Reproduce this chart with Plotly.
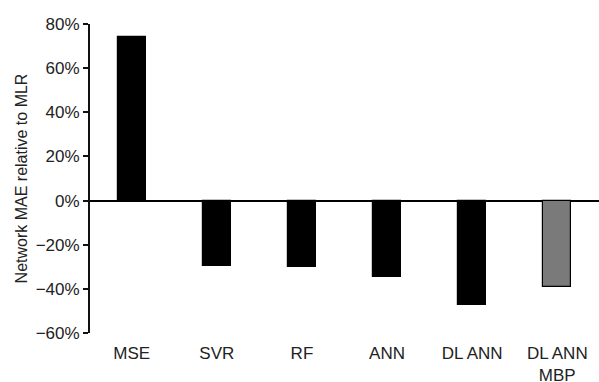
import plotly.graph_objects as go

# Model names and their network MAE change relative to MLR (percent)
models = ["MSE", "SVR", "RF", "ANN", "DL ANN", "DL ANN<br>MBP"]
mae_change = [74.2, -29.5, -30.0, -34.8, -47.4, -39.2]
bar_colors = ["#000000", "#000000", "#000000", "#000000", "#000000", "#7a7a7a"]

y_ticks = [-60, -40, -20, 0, 20, 40, 60, 80]
y_tick_text = [f"{v}%".replace("-", "\u2212") for v in y_ticks]

x_pos = list(range(len(models)))

fig = go.Figure()
fig.add_trace(go.Bar(
    x=x_pos,
    y=mae_change,
    width=0.33,
    marker=dict(color=bar_colors, line=dict(color="#000000", width=1.2)),
    showlegend=False,
))

font_family = "Liberation Sans, Arial, sans-serif"

fig.update_layout(
    width=599,
    height=382,
    margin=dict(l=90, r=0, t=24, b=49),
    paper_bgcolor="white",
    plot_bgcolor="white",
    font=dict(family=font_family, size=17, color="#222222"),
    bargap=0,
    xaxis=dict(
        range=[-0.49, 5.49],
        tickvals=x_pos,
        ticktext=models,
        showgrid=False,
        zeroline=False,
        showline=False,
        ticks="",
        automargin=False,
        ticklabelstandoff=8,
        tickfont=dict(size=17, color="#222222"),
    ),
    yaxis=dict(
        range=[-60, 80],
        tickvals=y_ticks,
        ticktext=y_tick_text,
        showgrid=False,
        zeroline=True,
        zerolinecolor="#000000",
        zerolinewidth=1.5,
        showline=True,
        linecolor="#111111",
        linewidth=2,
        ticks="outside",
        ticklen=5,
        tickwidth=1.5,
        tickcolor="#111111",
        automargin=False,
        tickfont=dict(size=17, color="#222222"),
        title=dict(text="Network MAE relative to MLR", font=dict(size=16, color="#222222"), standoff=4),
    ),
)

fig.write_html("out.html")
